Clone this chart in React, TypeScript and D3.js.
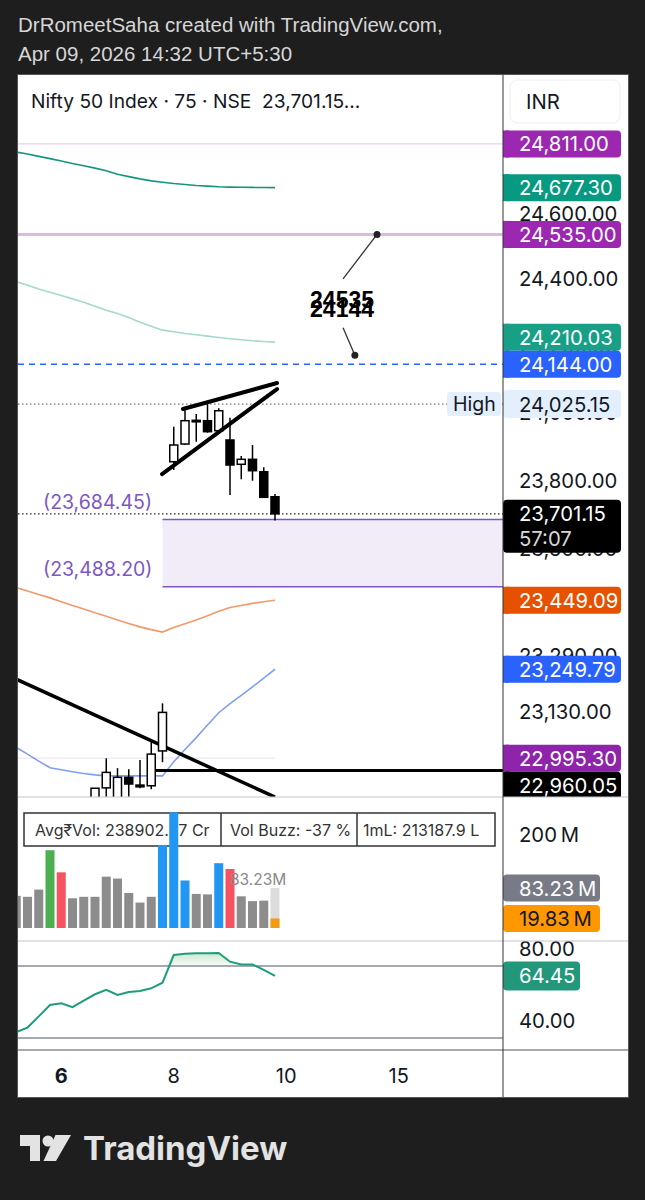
import React from "react";
import * as d3 from "d3";

// ---------- DATA ----------
// 75-minute bars, index 1..24 (Apr 2 – Apr 9, 2026)
const barIdx = d3.range(1, 25);
const opens = [22700, 22720, 22760, 22730, 22780, 22800, 22790, 22830, 22911, 22880, 22941, 22919, 22917, 23016, 23854.5, 23906.8, 23975, 23975.9, 23946.2, 23918.7, 23846.9, 23861.6, 23825, 23751.4];
const highs = [22760, 22780, 22800, 22790, 22840, 22830, 22850, 22911, 22995, 22967, 22964, 22990, 23047, 23152, 23958.1, 24015.6, 23995.7, 24025.15, 24012.7, 23984.8, 23871.3, 23903.9, 23838, 23759.4];
const lows = [22650, 22690, 22700, 22620, 22740, 22760, 22770, 22820, 22886, 22860, 22886, 22910, 22907, 22984, 23830, 23903.9, 23913.6, 23940.3, 23944, 23756.4, 23802.6, 23798.5, 23749, 23682];
const closes = [22720, 22760, 22730, 22780, 22800, 22790, 22830, 22910, 22955, 22941, 22922, 22914, 23007, 23126, 23903.9, 23975.9, 23977, 23943.3, 24005.5, 23844.8, 23861.6, 23828, 23749.7, 23701.15];

const volumes = [67, 65, 80, 162, 116, 62, 65, 65, 107, 103, 73, 53, 65, 173, 241, 99, 71, 70, 135, 123, 66, 56, 57, 83.23];
const volKinds = ["g", "g", "g", "up", "dn", "g", "g", "g", "g", "g", "g", "g", "g", "hi", "hi", "hi", "g", "g", "hi", "dn", "g", "g", "g", "cur"];
const curVolPart = 19.83;

const rsi = [33.3, 35.8, 42.0, 48.3, 49.3, 47.1, 50.7, 54.3, 56.7, 53.9, 55.6, 56.1, 57.6, 60.7, 76.1, 76.8, 77.1, 77.1, 77.2, 72.4, 70.9, 70.9, 67.8, 64.45];

const tealMA = [24786, 24780, 24773, 24766, 24759, 24751, 24744, 24737, 24729, 24718, 24711, 24704, 24698, 24694, 24690, 24687, 24684, 24682, 24680, 24679, 24678.5, 24678, 24677.6, 24677.3];
const lightTealMA = [24392, 24381, 24370, 24360, 24350, 24340, 24330, 24318, 24306, 24296, 24284, 24270, 24258, 24246, 24241, 24236, 24232, 24228, 24224, 24220, 24217, 24214, 24212, 24210.03];
const orangeMA = [23486, 23476, 23466, 23456, 23445, 23434, 23424, 23413, 23403, 23392, 23382, 23372, 23364, 23357, 23370, 23381, 23392, 23404, 23417, 23428, 23434, 23440, 23445, 23449.09];
const blueMA = [23026, 23007, 22987, 22968, 22962.5, 22957, 22952, 22948, 22945, 22945, 22945, 22945, 22945, 22945, 22985, 23020, 23054, 23090, 23125, 23151, 23175, 23199, 23224, 23249.79];

const priceTicks = [24600, 24400, 24200, 24000, 23800, 23600, 23290, 23130];
const volTicks = [200];
const rsiTicks = [80, 40];
const rsiBands = [70, 30];
const timeTicks = [
  { bar: 5, label: "6", bold: true },
  { bar: 15, label: "8", bold: false },
  { bar: 25, label: "10", bold: false },
  { bar: 35, label: "15", bold: false },
];

const wedgeUpper = [{ bar: 15.82, p: 24010.6 }, { bar: 24.18, p: 24088 }];
const wedgeLower = [{ bar: 13.96, p: 23818.2 }, { bar: 24.18, p: 24070 }];
const downTrend = [{ bar: 0, p: 23235.8 }, { bar: 24, p: 22885 }];
const flatLevel = { fromBar: 13.3, p: 22960.05 };
const zone = { fromBar: 14, top: 23684.45, bottom: 23488.2 };
const target = { textBar: 29.96, topBar: 33.07, topP: 24535, botBar: 31.1, botP: 24171, labels: ["24535", "24144"] };

const priceTags = [
  { value: 24811.0, text: "24,811.00", bg: "#9c27b0", fg: "#ffffff", pin: false },
  { value: 24677.3, text: "24,677.30", bg: "#089981", fg: "#ffffff", pin: false },
  { value: 24535.0, text: "24,535.00", bg: "#9c27b0", fg: "#ffffff", pin: false },
  { value: 24210.03, text: "24,210.03", bg: "#17a086", fg: "#ffffff", pin: false },
  { value: 24144.0, text: "24,144.00", bg: "#2962ff", fg: "#ffffff", pin: true },
  { value: 23449.09, text: "23,449.09", bg: "#e65100", fg: "#ffffff", pin: false },
  { value: 23249.79, text: "23,249.79", bg: "#2962ff", fg: "#ffffff", pin: false },
  { value: 22995.3, text: "22,995.30", bg: "#8e24aa", fg: "#ffffff", pin: true },
  { value: 22960.05, text: "22,960.05", bg: "#000000", fg: "#ffffff", pin: false },
];
const highValue = 24025.15;
const lastPrice = 23701.15;
const countdown = "57:07";

const FONT = "Inter, 'Noto Sans', Roboto, sans-serif";
const ARIAL = "'Liberation Sans', Arial, sans-serif";

// ---------- SCALES ----------
const x = d3.scaleLinear().domain([1, 24]).range([16.25, 275]);
const y = d3.scaleLog().domain([24600, 23130]).range([213, 711]);
const yVol = d3.scaleLinear().domain([0, 200]).range([928, 832]);
const yRsi = d3.scaleLinear().domain([40, 80]).range([1020, 948]);

const PL = 18, PR = 503, AR = 628;
const MAIN_T = 75, MAIN_B = 797, VOL_B = 941, RSI_B = 1050, TIME_B = 1097;
const AXF = 20.3;

const fmt = d3.format(",.2f");
const lineOf = (arr: number[]) =>
  d3.line<number>().x((_, i) => x(barIdx[i])).y((d) => y(d))(arr) as string;

function layoutTags(h: number) {
  const items = priceTags.map((t) => ({ ...t, cy: y(t.value) })).sort((a, b) => a.cy - b.cy);
  for (let it = 0; it < 12; it++) {
    for (let i = 1; i < items.length; i++) {
      const a = items[i - 1], b = items[i];
      const ov = h - (b.cy - a.cy);
      if (ov > 0) {
        if (a.pin && !b.pin) b.cy += ov;
        else if (b.pin && !a.pin) a.cy -= ov;
        else { a.cy -= ov / 2; b.cy += ov / 2; }
      }
    }
  }
  return items;
}

export default function App() {
  const tagH = 27;
  const tags = layoutTags(tagH);
  const volColor: Record<string, string> = { g: "#8c8c8c", up: "#4caf50", dn: "#f7525f", hi: "#2196f3", cur: "#dcdcdc" };

  const rsiLine = d3.line<number>().x((_, i) => x(barIdx[i])).y((d) => yRsi(d))(rsi) as string;
  const rsiArea = d3
    .area<number>()
    .x((_, i) => x(barIdx[i]))
    .y0(yRsi(70))
    .y1((d) => yRsi(Math.max(d, 70)))(rsi) as string;

  const bw = 8;
  const yHigh = y(highValue);
  const yLast = y(lastPrice);
  const TS = "\u2009";

  return (
    <svg width={645} height={1200} style={{ position: "absolute", left: 0, top: 0 }} fontFamily={FONT}>
      <defs>
        <clipPath id="cMain"><rect x={PL} y={MAIN_T} width={PR - PL} height={MAIN_B - MAIN_T} /></clipPath>
        <clipPath id="cVol"><rect x={PL} y={MAIN_B} width={PR - PL} height={VOL_B - MAIN_B} /></clipPath>
        <clipPath id="cRsi"><rect x={PL} y={VOL_B} width={PR - PL} height={RSI_B - VOL_B} /></clipPath>
        <clipPath id="cAxis"><rect x={PR} y={MAIN_T} width={AR - PR} height={MAIN_B - MAIN_T} /></clipPath>
        <linearGradient id="rsiFill" x1="0" y1="0" x2="0" y2="1">
          <stop offset="0%" stopColor="#4caf50" stopOpacity={0.28} />
          <stop offset="100%" stopColor="#4caf50" stopOpacity={0.04} />
        </linearGradient>
      </defs>
      <rect x={0} y={0} width={645} height={1200} fill="#1e1e1e" />
      <text x={18} y={32} fill="#d6d6d6" fontSize={20.5} fontFamily={ARIAL}>DrRomeetSaha created with TradingView.com,</text>
      <text x={18} y={61} fill="#d6d6d6" fontSize={20.5} fontFamily={ARIAL}>Apr 09, 2026 14:32 UTC+5:30</text>

      {/* panel */}
      <rect x={PL - 0.5} y={MAIN_T - 0.5} width={AR - PL + 1} height={TIME_B - MAIN_T + 1} fill="#ffffff" stroke="#555" />

      {/* ---------- MAIN PANE ---------- */}
      <g clipPath="url(#cMain)">
        <line x1={PL} x2={PR} y1={y(24811)} y2={y(24811)} stroke="#9c27b0" strokeOpacity={0.22} strokeWidth={1.2} />
        <line x1={PL} x2={PR} y1={y(24535)} y2={y(24535)} stroke="#ce93d8" strokeOpacity={0.65} strokeWidth={3} />
        <line x1={PL} x2={PR} y1={y(24144)} y2={y(24144)} stroke="#2962ff" strokeWidth={1.5} strokeDasharray="6 5" />
        <line x1={PL} x2={PR} y1={yHigh} y2={yHigh} stroke="#777" strokeWidth={1.3} strokeDasharray="1.5 2.5" />
        <line x1={PL} x2={PR} y1={yLast} y2={yLast} stroke="#222" strokeWidth={1.3} strokeDasharray="1.5 2.5" />

        {/* zone */}
        <rect x={x(zone.fromBar)} y={y(zone.top)} width={PR - x(zone.fromBar)} height={y(zone.bottom) - y(zone.top)} fill="#ede7f6" fillOpacity={0.8} />
        <line x1={x(zone.fromBar)} x2={PR} y1={y(zone.top)} y2={y(zone.top)} stroke="#7e57c2" strokeWidth={1.5} />
        <line x1={x(zone.fromBar)} x2={PR} y1={y(zone.bottom)} y2={y(zone.bottom)} stroke="#7e57c2" strokeWidth={1.5} />
        <text x={43} y={y(zone.top) - 18} fill="#7e57c2" fontSize={19.5} dominantBaseline="central">({fmt(zone.top)})</text>
        <text x={43} y={y(zone.bottom) - 18} fill="#7e57c2" fontSize={19.5} dominantBaseline="central">({fmt(zone.bottom)})</text>

        {/* indicators */}
        <path d={lineOf(tealMA)} fill="none" stroke="#14967c" strokeWidth={1.6} />
        <path d={lineOf(lightTealMA)} fill="none" stroke="#a5d8cf" strokeWidth={1.6} />
        <path d={lineOf(orangeMA)} fill="none" stroke="#f0996a" strokeWidth={1.6} />
        <path d={lineOf(blueMA)} fill="none" stroke="#7f9ff0" strokeWidth={1.6} />
        <line x1={x(1)} x2={x(24)} y1={y(22995.3)} y2={y(22995.3)} stroke="#8e24aa" strokeOpacity={0.12} strokeWidth={1.2} />

        {/* trend lines */}
        <line x1={x(downTrend[0].bar)} y1={y(downTrend[0].p)} x2={x(downTrend[1].bar)} y2={y(downTrend[1].p)} stroke="#000" strokeWidth={3.5} />
        <line x1={x(flatLevel.fromBar)} x2={PR} y1={y(flatLevel.p)} y2={y(flatLevel.p)} stroke="#000" strokeWidth={3} />

        {/* candles */}
        {barIdx.map((b, i) => {
          const o = opens[i], c = closes[i];
          const up = c >= o;
          const top = y(Math.max(o, c));
          const bot = y(Math.min(o, c));
          return (
            <g key={b}>
              <line x1={x(b)} x2={x(b)} y1={y(highs[i])} y2={y(lows[i])} stroke="#000" strokeWidth={1.5} />
              <rect x={x(b) - bw / 2} y={top} width={bw} height={Math.max(bot - top, 1.5)} fill={up ? "#ffffff" : "#000000"} stroke="#000" strokeWidth={1.5} />
            </g>
          );
        })}

        {/* wedge */}
        <line x1={x(wedgeUpper[0].bar)} y1={y(wedgeUpper[0].p)} x2={x(wedgeUpper[1].bar)} y2={y(wedgeUpper[1].p)} stroke="#000" strokeWidth={4} strokeLinecap="round" />
        <line x1={x(wedgeLower[0].bar)} y1={y(wedgeLower[0].p)} x2={x(wedgeLower[1].bar)} y2={y(wedgeLower[1].p)} stroke="#000" strokeWidth={4} strokeLinecap="round" />

        {/* target annotation */}
        {(() => {
          const tx = x(target.textBar);
          const ty = (y(target.topP) + y(target.botP)) / 2;
          return (
            <g>
              <line x1={x(target.topBar)} y1={y(target.topP)} x2={tx + 1} y2={ty - 16} stroke="#333" strokeWidth={1.3} />
              <line x1={tx + 1} y1={ty + 33} x2={x(target.botBar)} y2={y(target.botP)} stroke="#333" strokeWidth={1.3} />
              <circle cx={x(target.topBar)} cy={y(target.topP)} r={3.5} fill="#222" />
              <circle cx={x(target.botBar)} cy={y(target.botP)} r={3.5} fill="#222" />
              <text x={tx} y={ty + 13} textAnchor="middle" fontSize={23} fontWeight={700} fill="#000" fontFamily={ARIAL}>{target.labels[0]}</text>
              <text x={tx} y={ty + 22} textAnchor="middle" fontSize={23} fontWeight={700} fill="#000" fontFamily={ARIAL}>{target.labels[1]}</text>
            </g>
          );
        })()}

        {/* High label */}
        <rect x={447} y={yHigh - 12} width={54} height={24} rx={3} fill="#e3effd" />
        <text x={453} y={yHigh} fontSize={19.5} fill="#131722" dominantBaseline="central">High</text>

        {/* legend */}
        <rect x={PL} y={MAIN_T} width={PR - PL} height={50} fill="#ffffff" />
        <text x={31} y={101} fontSize={19.2} fill="#131722" dominantBaseline="central" style={{ whiteSpace: "pre" }}>{"Nifty 50 Index · 75 · NSE  23,701.15..."}</text>
      </g>

      {/* ---------- PRICE AXIS ---------- */}
      <g clipPath="url(#cAxis)">
        {priceTicks.map((t) => (
          <text key={t} x={519} y={y(t)} fontSize={AXF} fill="#131722" dominantBaseline="central">{fmt(t)}</text>
        ))}
        {tags.map((t) => (
          <g key={t.text}>
            <rect x={PR} y={t.cy - tagH / 2} width={118} height={tagH} rx={4} fill={t.bg} />
            <rect x={PR} y={t.cy - tagH / 2} width={6} height={tagH} fill={t.bg} />
            <text x={519} y={t.cy} fontSize={AXF} fill={t.fg} dominantBaseline="central">{t.text}</text>
          </g>
        ))}
        <rect x={PR} y={yHigh - 14} width={118} height={28} rx={4} fill="#e3effd" />
        <text x={519} y={yHigh} fontSize={AXF} fill="#131722" dominantBaseline="central">{fmt(highValue)}</text>
        <rect x={PR} y={yLast - 14} width={118} height={53} rx={4} fill="#000" />
        <text x={519} y={yLast} fontSize={AXF} fill="#ffffff" dominantBaseline="central">{fmt(lastPrice)}</text>
        <text x={519} y={yLast + 25} fontSize={AXF} fill="#d8d8d8" dominantBaseline="central">{countdown}</text>
      </g>
      <rect x={510} y={80} width={110} height={43} rx={7} fill="#ffffff" stroke="#eceef2" />
      <text x={526} y={101} fontSize={AXF} fill="#131722" dominantBaseline="central">INR</text>

      {/* ---------- VOLUME PANE ---------- */}
      <g clipPath="url(#cVol)">
        <rect x={24} y={813} width={471} height={33} fill="#ffffff" stroke="#333" strokeWidth={1.5} />
        <line x1={221} x2={221} y1={813} y2={846} stroke="#333" strokeWidth={1.5} />
        <line x1={357} x2={357} y1={813} y2={846} stroke="#333" strokeWidth={1.5} />
        <text x={35} y={830} fontSize={16} fill="#333" dominantBaseline="central">Avg₹Vol: 238902.57 Cr</text>
        <text x={230} y={830} fontSize={16} fill="#333" dominantBaseline="central">Vol Buzz: -37 %</text>
        <text x={363} y={830} fontSize={16} fill="#333" dominantBaseline="central">1mL: 213187.9 L</text>
        {barIdx.map((b, i) => (
          <rect key={b} x={x(b) - 4.5} y={yVol(volumes[i])} width={9} height={yVol(0) - yVol(volumes[i])} fill={volColor[volKinds[i]]} />
        ))}
        <rect x={x(24) - 4.5} y={yVol(curVolPart)} width={9} height={yVol(0) - yVol(curVolPart)} fill="#f39c12" />
        <text x={x(24) - 45} y={yVol(volumes[23]) - 9} fontSize={15.5} fill="#8a8a8a" dominantBaseline="central">83.23M</text>
      </g>
      {volTicks.map((t) => (
        <text key={t} x={519} y={yVol(t) + 2} fontSize={AXF} fill="#131722" dominantBaseline="central">{t}{TS}M</text>
      ))}
      <rect x={PR} y={yVol(volumes[23]) - 13.5} width={97} height={27} rx={4} fill="#787b86" />
      <text x={519} y={yVol(volumes[23])} fontSize={AXF} fill="#ffffff" dominantBaseline="central">{volumes[23].toFixed(2)}{TS}M</text>
      <rect x={PR} y={yVol(curVolPart) - 13.5} width={97} height={27} rx={4} fill="#ff9800" />
      <text x={519} y={yVol(curVolPart)} fontSize={AXF} fill="#131722" dominantBaseline="central">{curVolPart.toFixed(2)}{TS}M</text>

      {/* ---------- RSI PANE ---------- */}
      <g clipPath="url(#cRsi)">
        {rsiBands.map((b) => (
          <line key={b} x1={PL} x2={PR} y1={yRsi(b)} y2={yRsi(b)} stroke="#8a8d96" strokeWidth={1.5} />
        ))}
        <path d={rsiArea} fill="url(#rsiFill)" />
        <path d={rsiLine} fill="none" stroke="#1f9c7d" strokeWidth={2} />
      </g>
      {rsiTicks.map((t) => (
        <text key={t} x={519} y={yRsi(t)} fontSize={AXF} fill="#131722" dominantBaseline="central">{t.toFixed(2)}</text>
      ))}
      <rect x={PR} y={yRsi(rsi[23]) - 14.5} width={77} height={29} rx={4} fill="#22977a" />
      <text x={519} y={yRsi(rsi[23])} fontSize={AXF} fill="#ffffff" dominantBaseline="central">{rsi[23].toFixed(2)}</text>

      {/* separators */}
      <line x1={PL} x2={AR} y1={MAIN_B} y2={MAIN_B} stroke="#c4c6cc" strokeWidth={1} />
      <line x1={PL} x2={AR} y1={VOL_B} y2={VOL_B} stroke="#c4c6cc" strokeWidth={1} />
      <line x1={PL} x2={AR} y1={RSI_B} y2={RSI_B} stroke="#555" strokeWidth={1} />
      <line x1={PR} x2={PR} y1={MAIN_T} y2={TIME_B} stroke="#333" strokeWidth={1} />

      {/* time axis */}
      {timeTicks.map((t) => (
        <text key={t.label} x={x(t.bar)} y={1076} textAnchor="middle" fontSize={20} fontWeight={t.bold ? 700 : 400} fill="#131722" dominantBaseline="central">{t.label}</text>
      ))}

      {/* TradingView logo */}
      <g fill="#e3e3e3">
        <path d="M20,1135 H40 V1161 H30 V1146 H20 Z" />
        <circle cx={48} cy={1141} r={5.5} />
        <path d="M55.5,1135 H71 L56,1161 H43.5 Z" />
        <text x={83} y={1160} fontSize={33} fontWeight={700} fontFamily="Inter, Roboto, sans-serif">TradingView</text>
      </g>
    </svg>
  );
}
